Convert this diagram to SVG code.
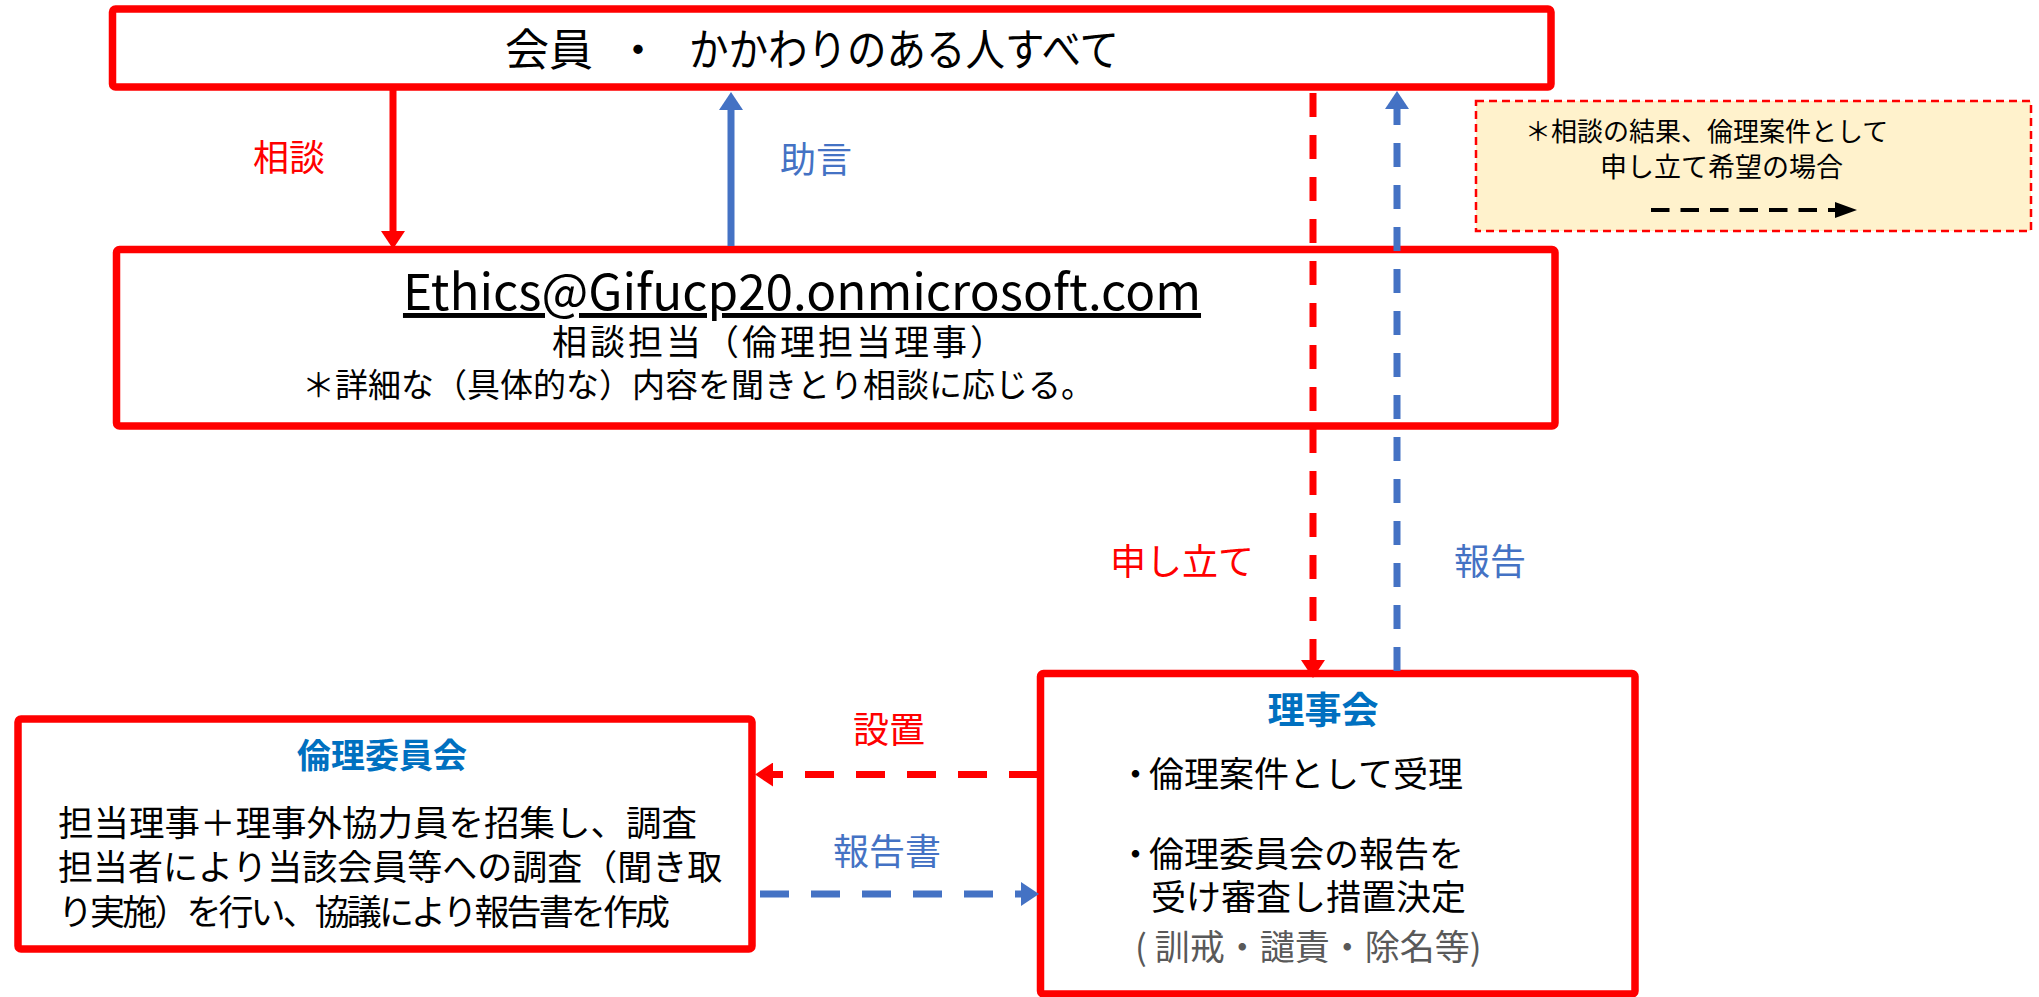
<svg xmlns="http://www.w3.org/2000/svg" width="2039" height="997" viewBox="0 0 2039 997">
<style>
text{font-family:"Noto Sans CJK JP","Noto Sans",sans-serif;}
.box{fill:#fff;stroke:#ff0000;stroke-width:7.5;stroke-linejoin:round;}
.t{fill:#000;}
.red{fill:#ff0000;}
.blue{fill:#4472c4;}
.ttl{fill:#0070c0;font-weight:bold;}
.grey{fill:#595959;}
.lr{stroke:#ff0000;stroke-width:7;fill:none;}
.lb{stroke:#4472c4;stroke-width:7;fill:none;}
.dv{stroke-dasharray:24 18;}
.dh{stroke-dasharray:29 22;}
</style>
<defs>
<marker id="ahr" markerUnits="userSpaceOnUse" markerWidth="18" markerHeight="24" viewBox="0 0 18 24" refX="0" refY="12" orient="auto"><path d="M0,0 L18,12 L0,24 z" fill="#ff0000"/></marker>
<marker id="ahb" markerUnits="userSpaceOnUse" markerWidth="18" markerHeight="24" viewBox="0 0 18 24" refX="0" refY="12" orient="auto"><path d="M0,0 L18,12 L0,24 z" fill="#4472c4"/></marker>
<marker id="ahk" markerUnits="userSpaceOnUse" markerWidth="22" markerHeight="16" viewBox="0 0 22 16" refX="0" refY="8" orient="auto"><path d="M0,0 L22,8 L0,16 z" fill="#000"/></marker>
</defs>

<g id="members">
<rect class="box" x="112.5" y="9" width="1438.5" height="78" rx="3"/>
<text class="t" y="66" font-size="44"><tspan x="505">会員</tspan><tspan x="616">・</tspan><tspan x="689" textLength="430" lengthAdjust="spacingAndGlyphs">かかわりのある人すべて</tspan></text>
</g>

<g id="consult">
<rect class="box" x="116.5" y="249.5" width="1438.5" height="176.5" rx="3"/>
<text class="t" x="802" y="310" font-size="49.5" text-anchor="middle" text-decoration="underline">Ethics@Gifucp20.onmicrosoft.com</text>
<text class="t" x="780" y="355" font-size="35" letter-spacing="3" text-anchor="middle">相談担当（倫理担当理事）</text>
<text class="t" x="302" y="397" font-size="33">＊詳細な（具体的な）内容を聞きとり相談に応じる。</text>
</g>

<g id="legend">
<rect x="1476" y="101" width="555" height="130" fill="#fff2cc" stroke="#ff0000" stroke-width="2.5" stroke-dasharray="8 5"/>
<text class="t" x="1525" y="141" font-size="26">＊相談の結果、倫理案件として</text>
<text class="t" x="1600" y="177" font-size="27">申し立て希望の場合</text>
<line x1="1651" y1="210" x2="1835" y2="210" stroke="#000" stroke-width="4" stroke-dasharray="18.5 11" marker-end="url(#ahk)"/>
</g>

<g id="ethics-committee">
<rect class="box" x="18" y="719" width="734" height="230" rx="3"/>
<text class="ttl" x="382" y="768" font-size="34" text-anchor="middle">倫理委員会</text>
<text class="t" x="58" y="836" font-size="35.5">担当理事＋理事外協力員を招集し、調査</text>
<text class="t" x="58" y="880" font-size="35">担当者により当該会員等への調査（聞き取</text>
<text class="t" x="58" y="925" font-size="35" textLength="612" lengthAdjust="spacing">り実施）を行い、協議により報告書を作成</text>
</g>

<g id="board">
<rect class="box" x="1040.5" y="673.5" width="594.5" height="320.5" rx="3"/>
<text class="ttl" x="1323" y="724" font-size="37" text-anchor="middle">理事会</text>
<text class="t" y="787" font-size="35"><tspan x="1118">・</tspan><tspan x="1149">倫理案件として受理</tspan></text>
<text class="t" y="867" font-size="35"><tspan x="1118">・</tspan><tspan x="1149">倫理委員会の報告を</tspan></text>
<text class="t" x="1151" y="910" font-size="35">受け審査し措置決定</text>
<text class="grey" x="1135" y="960" font-size="35">( 訓戒・譴責・除名等)</text>
</g>

<g id="connectors">
<line class="lr" x1="393" y1="90" x2="393" y2="231" marker-end="url(#ahr)"/>
<line class="lb" x1="731" y1="246" x2="731" y2="110" marker-end="url(#ahb)"/>
<line class="lr dv" x1="1313" y1="93" x2="1313" y2="660" marker-end="url(#ahr)"/>
<line class="lb dv" x1="1397" y1="671" x2="1397" y2="109" marker-end="url(#ahb)"/>
<line class="lr dh" x1="1038" y1="774.5" x2="773" y2="774.5" marker-end="url(#ahr)"/>
<line class="lb dh" x1="760" y1="894" x2="1021" y2="894" marker-end="url(#ahb)"/>
<text class="red" x="289" y="171" font-size="36" text-anchor="middle">相談</text>
<text class="blue" x="816" y="173" font-size="36" text-anchor="middle">助言</text>
<text class="red" x="1182" y="575" font-size="36" text-anchor="middle">申し立て</text>
<text class="blue" x="1490" y="575" font-size="36" text-anchor="middle">報告</text>
<text class="red" x="889" y="743" font-size="36" text-anchor="middle">設置</text>
<text class="blue" x="887" y="865" font-size="36" text-anchor="middle">報告書</text>
</g>
</svg>
